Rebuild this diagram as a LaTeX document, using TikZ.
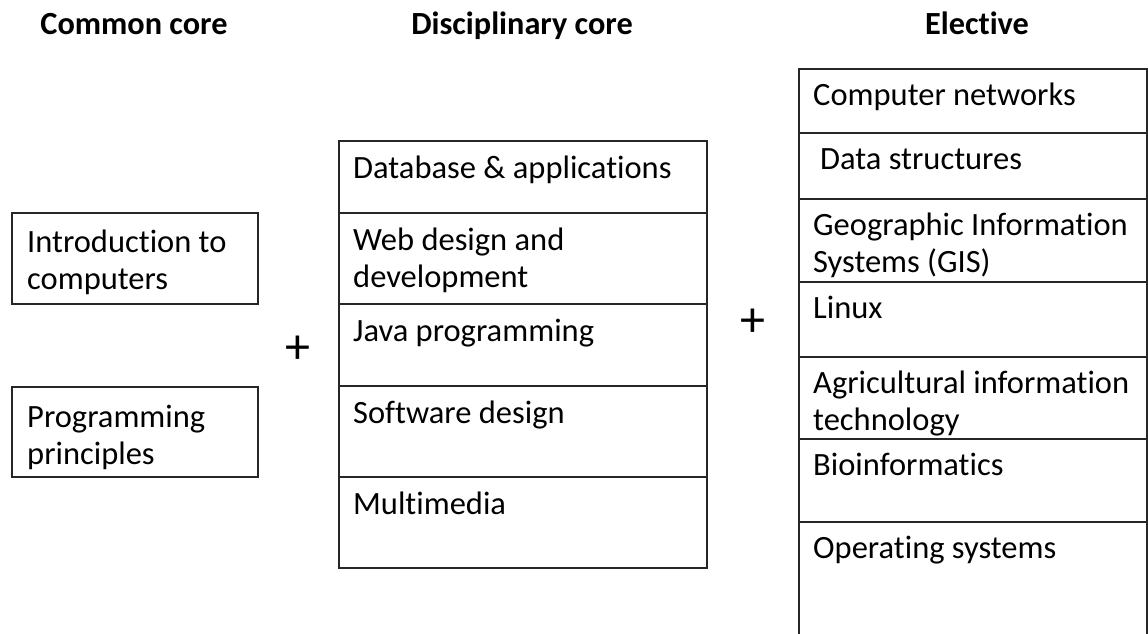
\documentclass[tikz,border=0pt]{standalone}
\usepackage{fontspec}
\setmainfont{Carlito}[Ligatures=NoCommon]
\begin{document}
\begin{tikzpicture}[x=1pt,y=-1pt,
  box/.style={draw=black!85,line width=1.5pt},
  item/.style={anchor=base west,inner sep=0pt,align=left,font=\fontsize{32.5}{37}\selectfont},
  head/.style={anchor=base,inner sep=0pt,font=\fontsize{32.3}{36}\selectfont\bfseries},
  plus/.style={inner sep=0pt,font=\fontsize{50}{50}\selectfont}]
\useasboundingbox (0,0) rectangle (1148,634);
% headers
\node[head] (h1) at (134,35) {Common core};
\node[head] (h2) at (522,35) {Disciplinary core};
\node[head] (h3) at (977,35) {Elective};
% common core
\draw[box] (12,213) rectangle (258,304);
\draw[box] (12,387) rectangle (258,477);
\node[item] (c1) at (27,289) {Introduction to\\computers};
\node[item] (c2) at (27,464) {Programming\\principles};
% plus signs
\node[plus] (p1) at (298,350) {+};
\node[plus] (p2) at (753,323) {+};
% disciplinary core
\draw[box] (339,141) rectangle (707,568);
\foreach \y in {213,304,386,477} \draw[box] (339,\y) -- (707,\y);
\node[item] (d1) at (353,178) {Database \& applications};
\node[item] (d2) at (353,287) {Web design and\\development};
\node[item] (d3) at (353,341) {Java programming};
\node[item] (d4) at (353,423) {Software design};
\node[item] (d5) at (353,514) {Multimedia};
% elective
\draw[box] (799,640) -- (799,69) -- (1147,69) -- (1147,640);
\foreach \y in {133,199,282,357,439,522} \draw[box] (799,\y) -- (1147,\y);
\node[item] (e1) at (813,105) {Computer networks};
\node[item] (e2) at (820,169) {Data structures};
\node[item] (e3) at (813,272) {Geographic Information\\Systems (GIS)};
\node[item] (e4) at (813,318) {Linux};
\node[item] (e5) at (813,430) {Agricultural information\\technology};
\node[item] (e6) at (813,475) {Bioinformatics};
\node[item] (e7) at (813,558) {Operating systems};
\end{tikzpicture}
\end{document}
